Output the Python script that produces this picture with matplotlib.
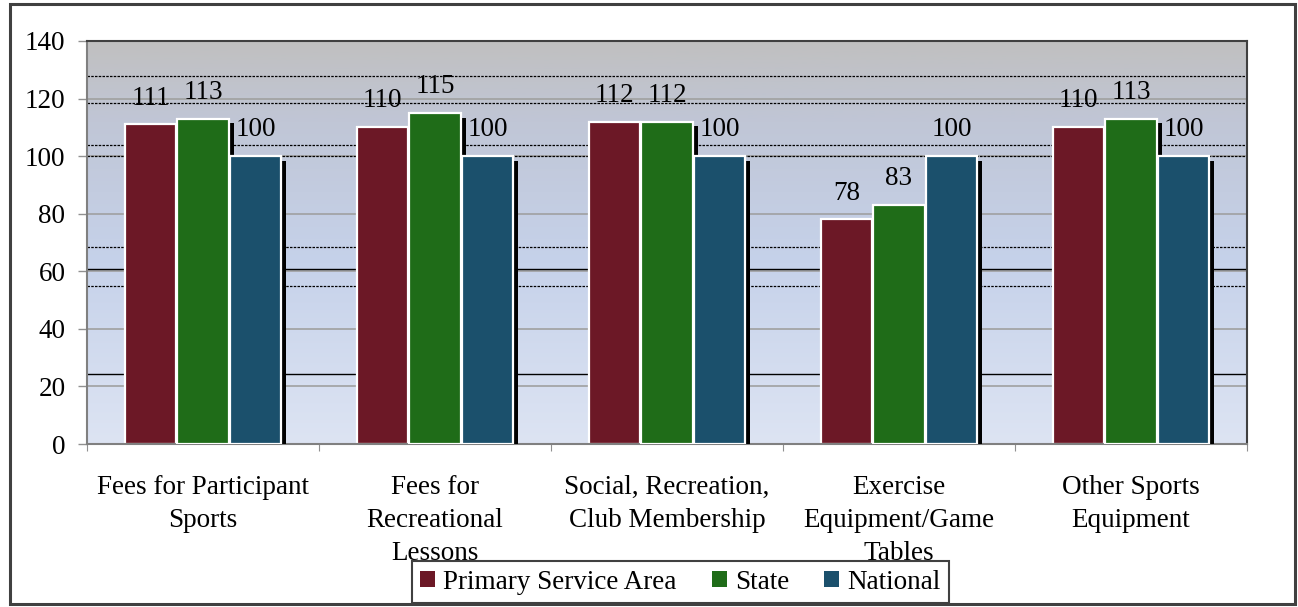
import numpy as np
import matplotlib
matplotlib.use("Agg")
import matplotlib.pyplot as plt
import matplotlib.patheffects as pe
from matplotlib.colors import LinearSegmentedColormap
from matplotlib.patches import Rectangle

# chart data
categories = ["Fees for Participant\nSports", "Fees for\nRecreational\nLessons",
              "Social, Recreation,\nClub Membership", "Exercise\nEquipment/Game\nTables",
              "Other Sports\nEquipment"]
series_names = ["Primary Service Area", "State", "National"]
primary = [111, 110, 112, 78, 110]
state = [113, 115, 112, 83, 113]
national = [100, 100, 100, 100, 100]
colors = ["#6C1826", "#1F6C18", "#1B506C"]

# stray black rules that show up in the original picture
solid_rules = [60.8, 24.3]
dashed_rules = [127.8, 118.4, 103.9, 100, 68.6, 54.9]

plt.rcParams['font.family'] = 'serif'
plt.rcParams['font.serif'] = ['Liberation Serif', 'Times New Roman', 'DejaVu Serif']
fs = 19.5

fig = plt.figure(figsize=(12.98, 6.07), dpi=100)
ax = fig.add_axes([87 / 1298, 1 - 444 / 607, 1160 / 1298, 403 / 607])

# background gradient
cmap = LinearSegmentedColormap.from_list(
    "bg", [(0, "#DDE4F3"), (0.45, "#C6D2EA"), (0.8, "#C0C6D6"), (1, "#C0C0C0")])
grad = np.linspace(0, 1, 256).reshape(-1, 1)
ax.imshow(grad, cmap=cmap, origin="lower", aspect="auto",
          extent=[-0.5, 4.5, 0, 140], zorder=0)

for v in range(20, 140, 20):
    ax.axhline(v, color="#A0A0A0", lw=1.2, zorder=1)
for v in solid_rules:
    ax.axhline(v, color="black", lw=1, zorder=1)
for v in dashed_rules:
    ax.axhline(v, color="black", lw=0.9, ls=(0, (2, 1)), zorder=1)

x = np.arange(len(categories))
w = 0.222
shadow = [pe.SimplePatchShadow(offset=(3.8, -3.4), shadow_rgbFace="black", alpha=1), pe.Normal()]
for i, (vals, c) in enumerate(zip([primary, state, national], colors)):
    xs = x + (i - 1) * 0.226
    bars = ax.bar(xs, vals, width=w, color=c, edgecolor="white", linewidth=1.6,
                  label=series_names[i], zorder=2 + i)
    for b in bars:
        b.set_path_effects(shadow)
    for xi, v in zip(xs, vals):
        ax.annotate(str(v), (xi, v), xytext=(0, 10), textcoords="offset points",
                    ha="center", va="bottom", fontsize=fs, zorder=6)

ax.set_xlim(-0.5, 4.5)
ax.set_ylim(0, 140)
ax.set_yticks(range(0, 141, 20))
ax.tick_params(axis="y", direction="out", length=6.5, width=1, color="#909090",
               pad=9, labelsize=fs)
ax.set_xticks(np.arange(-0.5, 5, 1))
ax.set_xticklabels([])
ax.tick_params(axis="x", which="major", direction="out", length=5, color="#909090")
for xi, cat in zip(x, categories):
    ax.annotate(cat, (xi, 0), xycoords=("data", "axes fraction"), xytext=(0, -22),
                textcoords="offset points", ha="center", va="top", fontsize=fs,
                linespacing=1.44, annotation_clip=False)

for s in ["left", "bottom"]:
    ax.spines[s].set_color("#808080")
    ax.spines[s].set_linewidth(1.5)
for s in ["top", "right"]:
    ax.spines[s].set_color("#404040")
    ax.spines[s].set_linewidth(1.5)

fig.patches.append(Rectangle((10 / 1298, 3 / 607), 1285 / 1298, 600 / 607,
                             transform=fig.transFigure, fill=False,
                             edgecolor="#404040", linewidth=2.2))

handles, labels = ax.get_legend_handles_labels()
leg = fig.legend(handles, labels, loc="lower center", bbox_to_anchor=(0.5243, 0.006),
                 ncol=3, fontsize=fs, frameon=True, fancybox=False, framealpha=1,
                 edgecolor="#404040", handlelength=0.55, handleheight=0.55,
                 handletextpad=0.3, columnspacing=1.3, borderpad=0.32,
                 borderaxespad=0)
leg.get_frame().set_linewidth(1.5)
for h in leg.legend_handles:
    h.set_edgecolor("none")
    h.set_path_effects([])

fig.savefig("out.png", dpi=100)
